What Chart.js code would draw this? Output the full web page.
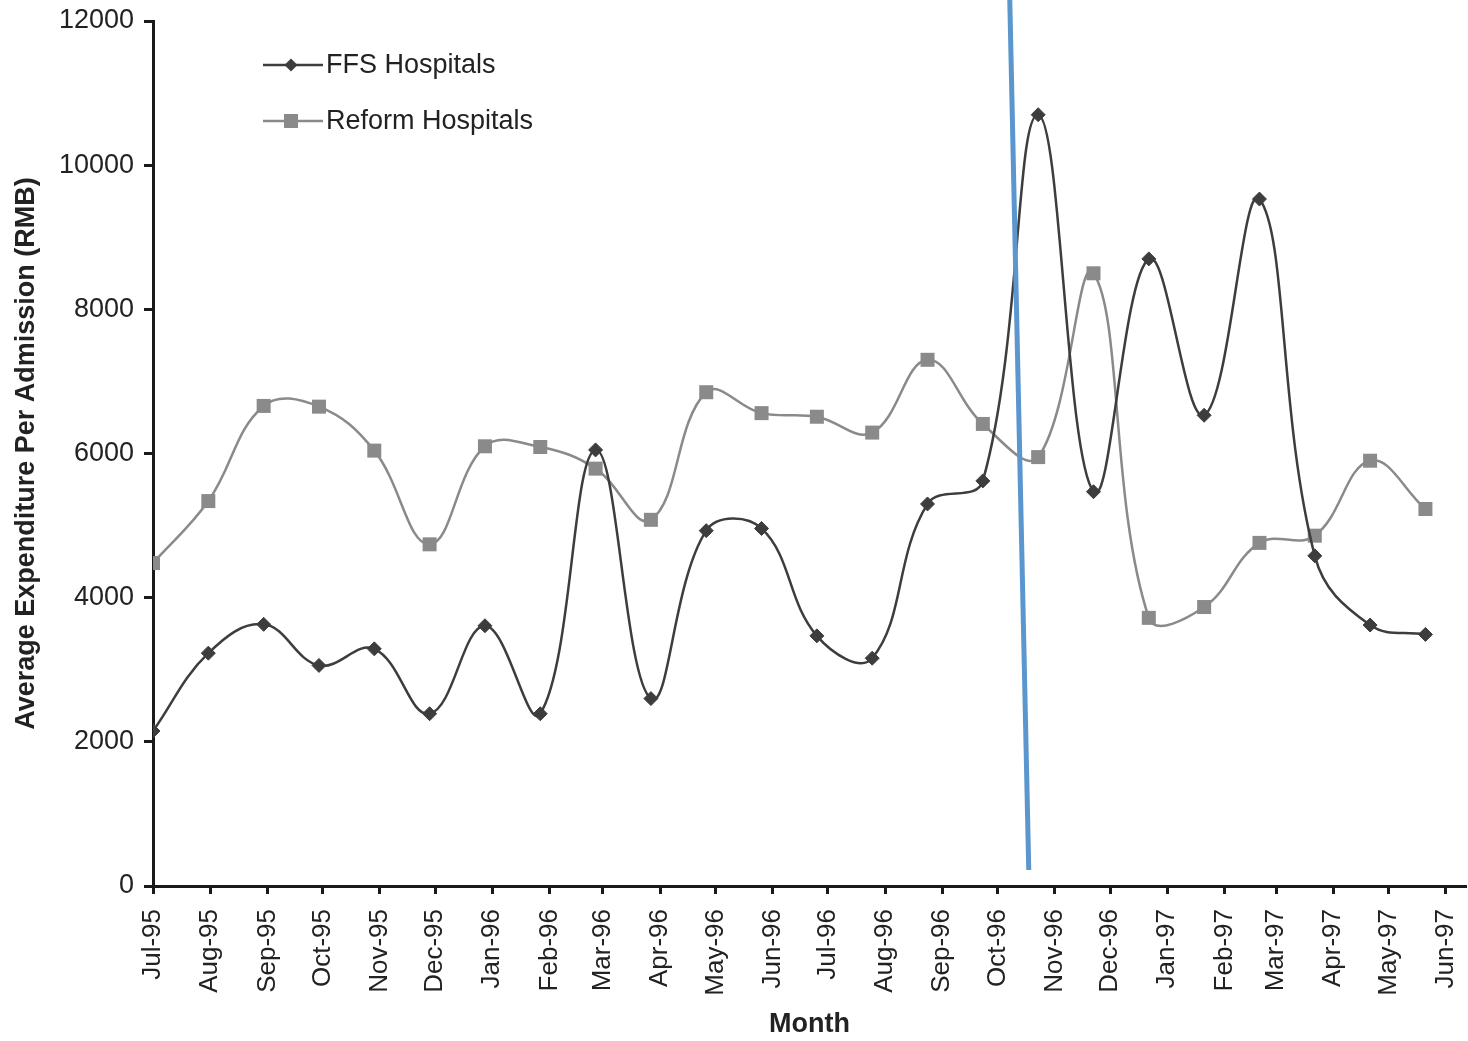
<!DOCTYPE html>
<html>
<head>
<meta charset="utf-8">
<script src="https://cdn.jsdelivr.net/npm/chart.js@4.4.1/dist/chart.umd.min.js"></script>
<style>
html,body{margin:0;padding:0;background:#fff;}
#wrap{width:1468px;height:1041px;position:relative;}
</style>
</head>
<body>
<div id="wrap"><canvas id="c" width="1468" height="1041"></canvas></div>
<script>
// ---- data ----
const monthLabels = ['Jul-95','Aug-95','Sep-95','Oct-95','Nov-95','Dec-95','Jan-96','Feb-96','Mar-96','Apr-96','May-96','Jun-96',
                     'Jul-96','Aug-96','Sep-96','Oct-96','Nov-96','Dec-96','Jan-97','Feb-97','Mar-97','Apr-97','May-97','Jun-97'];
// days since 1 Jul 1995 at which each month label starts
const monthStartDays = [0,31,62,92,123,153,184,215,244,275,305,336,366,397,428,458,489,519,550,581,609,640,670,701];
// days since 1 Jul 1995 of each observation (30-day periods)
const sampleDays = [0,30,60,90,120,150,180,210,240,270,300,330,360,390,420,450,480,510,540,570,600,630,660,690];
const ffsValues = [2150,3230,3630,3060,3290,2390,3610,2390,6050,2600,4930,4960,3470,3160,5300,5620,10700,5470,8700,6530,9530,4580,3620,3490];
const reformValues = [4480,5340,6660,6650,6040,4740,6100,6090,5790,5080,6850,6560,6510,6290,7300,6410,5950,8500,3720,3870,4760,4860,5900,5230];
const seriesNames = ['FFS Hospitals','Reform Hospitals'];
// hand-drawn marker line (day, value) endpoints
const markerLineDays = [464.6, 474.9];
const markerLineValues = [12291, 222];
const yTicks = [0,2000,4000,6000,8000,10000,12000];

const FONT = '"Liberation Sans", Arial, sans-serif';
const ffsColor = '#3d3d3d';
const reformColor = '#8a8a8a';

const toPoints = (xs, ys) => xs.map((x, i) => ({x: x, y: ys[i]}));

const legendPlugin = {
  id: 'customLegend',
  afterDraw(chart) {
    const ctx = chart.ctx;
    const rowsY = [65, 121];
    ctx.save();
    chart.data.datasets.forEach((ds, i) => {
      const y = rowsY[i];
      ctx.strokeStyle = ds.borderColor;
      ctx.lineWidth = 2.5;
      ctx.beginPath();
      ctx.moveTo(263, y);
      ctx.lineTo(323, y);
      ctx.stroke();
      ctx.fillStyle = ds.pointBackgroundColor;
      ctx.beginPath();
      if (ds.pointStyle === 'rectRot') {
        const r = 6.5;
        ctx.moveTo(291 - r, y); ctx.lineTo(291, y - r); ctx.lineTo(291 + r, y); ctx.lineTo(291, y + r);
        ctx.closePath();
      } else {
        ctx.rect(291 - 7, y - 7, 14, 14);
      }
      ctx.fill();
      ctx.fillStyle = '#222';
      ctx.font = '27px ' + FONT;
      ctx.textBaseline = 'middle';
      ctx.textAlign = 'left';
      ctx.fillText(ds.label, 326, y + 1);
    });
    ctx.restore();
  }
};

const markerPlugin = {
  id: 'markerLine',
  afterDatasetsDraw(chart) {
    const xs = chart.scales.x, ys = chart.scales.y;
    const ctx = chart.ctx;
    ctx.save();
    ctx.strokeStyle = '#5b96cf';
    ctx.lineWidth = 5;
    ctx.beginPath();
    ctx.moveTo(xs.getPixelForValue(markerLineDays[0]), ys.getPixelForValue(markerLineValues[0]));
    ctx.lineTo(xs.getPixelForValue(markerLineDays[1]), ys.getPixelForValue(markerLineValues[1]));
    ctx.stroke();
    ctx.restore();
  }
};

new Chart(document.getElementById('c'), {
  type: 'line',
  data: {
    datasets: [
      {
        label: seriesNames[0],
        data: toPoints(sampleDays, ffsValues),
        borderColor: ffsColor,
        backgroundColor: ffsColor,
        pointBackgroundColor: ffsColor,
        pointBorderColor: ffsColor,
        borderWidth: 2.5,
        pointStyle: 'rectRot',
        pointRadius: 7,
        pointBorderWidth: 1,
        tension: 0.4,
        fill: false
      },
      {
        label: seriesNames[1],
        data: toPoints(sampleDays, reformValues),
        borderColor: reformColor,
        backgroundColor: reformColor,
        pointBackgroundColor: reformColor,
        pointBorderColor: reformColor,
        borderWidth: 2.5,
        pointStyle: 'rect',
        pointRadius: 9.9,
        pointBorderWidth: 0,
        tension: 0.4,
        fill: false
      }
    ]
  },
  options: {
    responsive: false,
    animation: false,
    devicePixelRatio: 1,
    layout: { autoPadding: false, padding: { top: 21, right: 2, left: 0, bottom: 0 } },
    plugins: { legend: { display: false }, tooltip: { enabled: false } },
    scales: {
      x: {
        type: 'linear',
        min: 0,
        max: 712,
        afterBuildTicks: (s) => { s.ticks = monthStartDays.map(v => ({ value: v })); },
        afterFit: (s) => { s.height = 155; s.paddingLeft = 0; s.paddingRight = 0; s.paddingTop = 0; s.paddingBottom = 0; },
        ticks: {
          autoSkip: false,
          minRotation: 90,
          maxRotation: 90,
          padding: 15,
          color: '#222',
          font: { size: 26, family: FONT },
          callback: (v) => monthLabels[monthStartDays.indexOf(v)]
        },
        grid: { drawOnChartArea: false, drawTicks: true, tickLength: 8, tickWidth: 3, tickColor: '#1a1a1a' },
        border: { display: true, color: '#1a1a1a', width: 3 },
        title: { display: true, text: 'Month', color: '#222', font: { size: 27, weight: 'bold', family: FONT }, padding: { top: 0, bottom: 0 } }
      },
      y: {
        min: 0,
        max: 12000,
        afterBuildTicks: (s) => { s.ticks = yTicks.map(v => ({ value: v })); },
        afterFit: (s) => { s.width = 153; s.paddingTop = 0; s.paddingBottom = 0; s.paddingLeft = 0; s.paddingRight = 0; },
        ticks: {
          padding: 10,
          color: '#222',
          font: { size: 27, family: FONT },
          callback: (v) => String(v)
        },
        grid: { drawOnChartArea: false, drawTicks: true, tickLength: 9, tickWidth: 3, tickColor: '#1a1a1a' },
        border: { display: true, color: '#1a1a1a', width: 3 },
        title: { display: true, text: 'Average Expenditure Per Admission (RMB)', color: '#222', font: { size: 27, weight: 'bold', family: FONT }, padding: { top: 10, bottom: 0 } }
      }
    }
  },
  plugins: [markerPlugin, legendPlugin]
});
</script>
</body>
</html>
